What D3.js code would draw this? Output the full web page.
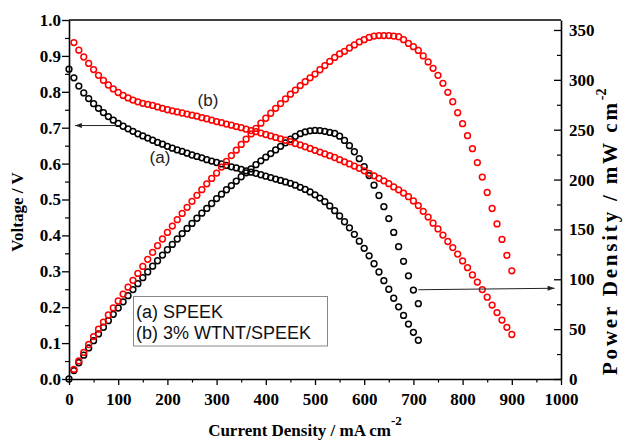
<!DOCTYPE html>
<html><head><meta charset="utf-8">
<script src="https://cdn.jsdelivr.net/npm/d3@7"></script>
<style>body{margin:0;background:#fff}svg{display:block}</style>
</head><body>
<svg id="c" width="626" height="442"></svg>
<script>
// ---- data ----
const currentA = [0,10,20,30,40,50,60,70,80,90,100,110,120,130,140,150,160,170,180,190,200,210,220,230,240,250,260,270,280,290,300,310,320,330,340,350,360,370,380,390,400,410,420,430,440,450,460,470,480,490,500,510,520,530,540,550,560,570,580,590,600,610,620,630,640,650,660,670,680,690,700,710];
const voltageA = [0.863,0.839,0.816,0.797,0.781,0.767,0.754,0.742,0.731,0.721,0.712,0.704,0.697,0.690,0.683,0.677,0.671,0.665,0.659,0.654,0.648,0.643,0.638,0.634,0.629,0.624,0.620,0.616,0.611,0.607,0.603,0.599,0.595,0.591,0.588,0.584,0.580,0.576,0.573,0.569,0.565,0.561,0.557,0.553,0.549,0.545,0.540,0.534,0.528,0.521,0.513,0.504,0.494,0.482,0.469,0.454,0.438,0.421,0.403,0.384,0.364,0.343,0.321,0.298,0.274,0.250,0.225,0.201,0.177,0.153,0.130,0.108];
const powerA = [0,8.4,16.3,23.9,31.2,38.4,45.2,51.9,58.5,64.9,71.2,77.4,83.6,89.7,95.6,101.6,107.4,113.1,118.6,124.3,129.6,135.0,140.4,145.8,151.0,156.0,161.2,166.3,171.1,176.0,180.9,185.3,189.8,194.0,198.5,202.8,206.7,210.8,214.9,218.8,222.4,226.1,229.7,233.3,236.8,240.4,243.4,246.0,247.8,248.9,249.3,249.1,248.4,247.3,246.2,243.5,239.2,234.0,227.9,220.9,212.9,204.0,194.4,184.0,172.8,160.9,147.0,132.7,118.0,103.5,89.2,75.5];
const currentB = [10,20,30,40,50,60,70,80,90,100,110,120,130,140,150,160,170,180,190,200,210,220,230,240,250,260,270,280,290,300,310,320,330,340,350,360,370,380,390,400,410,420,430,440,450,460,470,480,490,500,510,520,530,540,550,560,570,580,590,600,610,620,630,640,650,660,670,680,690,700,710,720,730,740,750,760,770,780,790,800,810,820,830,840,850,860,870,880,890,900];
const voltageB = [0.937,0.916,0.897,0.879,0.862,0.846,0.832,0.819,0.808,0.798,0.790,0.783,0.777,0.772,0.768,0.765,0.762,0.758,0.754,0.750,0.747,0.744,0.741,0.738,0.735,0.732,0.728,0.725,0.721,0.717,0.714,0.710,0.707,0.703,0.700,0.696,0.692,0.689,0.685,0.681,0.677,0.673,0.669,0.665,0.661,0.656,0.652,0.647,0.642,0.637,0.632,0.627,0.622,0.617,0.611,0.605,0.599,0.593,0.587,0.580,0.573,0.566,0.559,0.552,0.544,0.535,0.527,0.518,0.508,0.496,0.483,0.467,0.451,0.434,0.418,0.401,0.383,0.366,0.348,0.329,0.310,0.290,0.270,0.249,0.228,0.206,0.185,0.164,0.144,0.124];
const powerB = [9.6,18.1,26.6,34.6,42.5,50.0,57.1,64.2,71.3,78.2,85.2,92.1,99.0,105.9,112.9,120.0,126.9,133.7,140.4,147.0,153.4,159.8,166.0,172.2,178.2,184.2,189.9,195.7,201.1,206.5,212.5,218.1,224.0,229.5,235.2,240.5,245.8,251.3,256.5,261.5,266.5,271.4,276.2,280.9,285.6,289.7,294.2,298.1,302.0,305.8,310.1,314.3,318.5,322.5,326.0,328.6,331.9,335.0,338.0,340.3,342.5,343.9,344.4,344.4,344.4,343.9,343.2,340.3,336.5,333.3,329.5,324.0,318.0,311.5,304.5,296.5,287.5,278.0,267.0,256.0,244.0,231.0,217.0,202.5,187.0,171.0,155.5,140.0,124.0,108.5];
const xTicks = [0,100,200,300,400,500,600,700,800,900,1000];
const vTicks = [0,0.1,0.2,0.3,0.4,0.5,0.6,0.7,0.8,0.9,1.0];
const pTicks = [0,50,100,150,200,250,300,350];
const xMinor = [50,150,250,350,450,550,650,750,850,950];
const vMinor = [0.05,0.15,0.25,0.35,0.45,0.55,0.65,0.75,0.85,0.95];
const pMinor = [25,75,125,175,225,275,325];
const legendLabels = ["(a) SPEEK","(b) 3% WTNT/SPEEK"];

// ---- layout ----
const L = 69, R = 561, T = 20, B = 379;
const svg = d3.select("#c");
const x = d3.scaleLinear().domain([0,1000]).range([L,R]);
const yV = d3.scaleLinear().domain([0,1]).range([B,T]);
const yP = d3.scaleLinear().domain([0,360]).range([B,T]);
const serif = "'Liberation Serif','Times New Roman',serif";
const sans = "'Liberation Sans',Arial,sans-serif";

// frame top
svg.append("line").attr("x1",L).attr("x2",R).attr("y1",T).attr("y2",T).attr("stroke","#000").attr("stroke-width",1.3);

function styleAxis(g){
  g.select(".domain").attr("stroke","#000").attr("stroke-width",1.6);
  g.selectAll(".tick line").attr("stroke","#000").attr("stroke-width",1.3);
  g.selectAll("text").attr("font-family",serif).attr("font-weight","bold").attr("font-size",17).attr("fill","#000");
}
function styleMinor(g){
  g.select(".domain").remove();
  g.selectAll("line").attr("stroke","#000").attr("stroke-width",1.2);
}

// bottom
svg.append("g").attr("transform",`translate(0,${B})`)
  .call(d3.axisBottom(x).tickValues(xMinor).tickFormat("").tickSize(3.5).tickSizeOuter(0)).call(styleMinor);
svg.append("g").attr("transform",`translate(0,${B})`)
  .call(d3.axisBottom(x).tickValues(xTicks).tickFormat(d3.format("d")).tickSize(6).tickSizeOuter(0).tickPadding(8))
  .call(styleAxis);
// left
svg.append("g").attr("transform",`translate(${L},0)`)
  .call(d3.axisLeft(yV).tickValues(vMinor).tickFormat("").tickSize(4).tickSizeOuter(0)).call(styleMinor);
svg.append("g").attr("transform",`translate(${L},0)`)
  .call(d3.axisLeft(yV).tickValues(vTicks).tickFormat(d3.format(".1f")).tickSize(7).tickSizeOuter(0).tickPadding(1))
  .call(styleAxis);
// right (ticks inward)
svg.append("g").attr("transform",`translate(${R},0)`)
  .call(d3.axisRight(yP).tickValues(pMinor).tickFormat("").tickSize(-4).tickSizeOuter(0)).call(styleMinor);
svg.append("g").attr("transform",`translate(${R},0)`)
  .call(d3.axisRight(yP).tickValues(pTicks).tickFormat(d3.format("d")).tickSize(-7).tickSizeOuter(0).tickPadding(8))
  .call(styleAxis);

// axis titles
svg.append("text").attr("transform","translate(23,212) rotate(-90)").attr("text-anchor","middle")
  .attr("font-family",serif).attr("font-weight","bold").attr("font-size",17).text("Voltage / V");
const xt = svg.append("text").attr("x",305).attr("y",436).attr("text-anchor","middle")
  .attr("font-family",serif).attr("font-weight","bold").attr("font-size",17);
xt.append("tspan").text("Current Density / mA cm");
xt.append("tspan").attr("dy",-11).attr("font-size",13).text("-2");
const rt = svg.append("text").attr("transform","translate(617,375) rotate(-90)").attr("text-anchor","start")
  .attr("font-family",serif).attr("font-weight","bold").attr("font-size",21);
rt.append("tspan").attr("textLength",272).attr("lengthAdjust","spacing").text("Power Density / mW cm");
rt.append("tspan").attr("dy",-11).attr("font-size",14).text("-2");

// markers
function series(cur, vals, scale, color){
  svg.append("g").selectAll("circle").data(cur).join("circle")
    .attr("cx",(d)=>x(d)).attr("cy",(d,i)=>scale(vals[i])).attr("r",2.9)
    .attr("fill","none").attr("stroke",color).attr("stroke-width",1.5);
}
series(currentA, voltageA, yV, "#000");
series(currentA, powerA, yP, "#000");
series(currentB, voltageB, yV, "#ff0000");
series(currentB, powerB, yP, "#ff0000");

// arrows
function arrow(x1,y1,x2,y2){
  svg.append("line").attr("x1",x1).attr("y1",y1).attr("x2",x2).attr("y2",y2).attr("stroke","#222").attr("stroke-width",1);
  const dir = Math.sign(x2-x1);
  svg.append("path").attr("d",`M${x2},${y2} L${x2-dir*7},${y2-2.5} L${x2-dir*7},${y2+2.5} Z`).attr("fill","#222");
}
arrow(x(104), yV(0.706), x(12), yV(0.706));
arrow(x(710), yP(89.5), x(987), yP(91));

// curve labels
svg.append("text").attr("x",208).attr("y",106).attr("text-anchor","middle").attr("font-family",sans).attr("font-size",17).attr("fill","#222").text("(b)");
svg.append("text").attr("x",160).attr("y",163).attr("text-anchor","middle").attr("font-family",sans).attr("font-size",17).attr("fill","#222").text("(a)");

// legend
svg.append("rect").attr("x",133.5).attr("y",296.5).attr("width",194).attr("height",49.5).attr("fill","#fff").attr("stroke","#888").attr("stroke-width",1);
svg.selectAll(".lg").data(legendLabels).join("text").attr("class","lg")
  .attr("x",136).attr("y",(d,i)=>317.5+i*21).attr("font-family",sans).attr("font-size",18).attr("fill","#111").text(d=>d);
</script>
</body></html>
